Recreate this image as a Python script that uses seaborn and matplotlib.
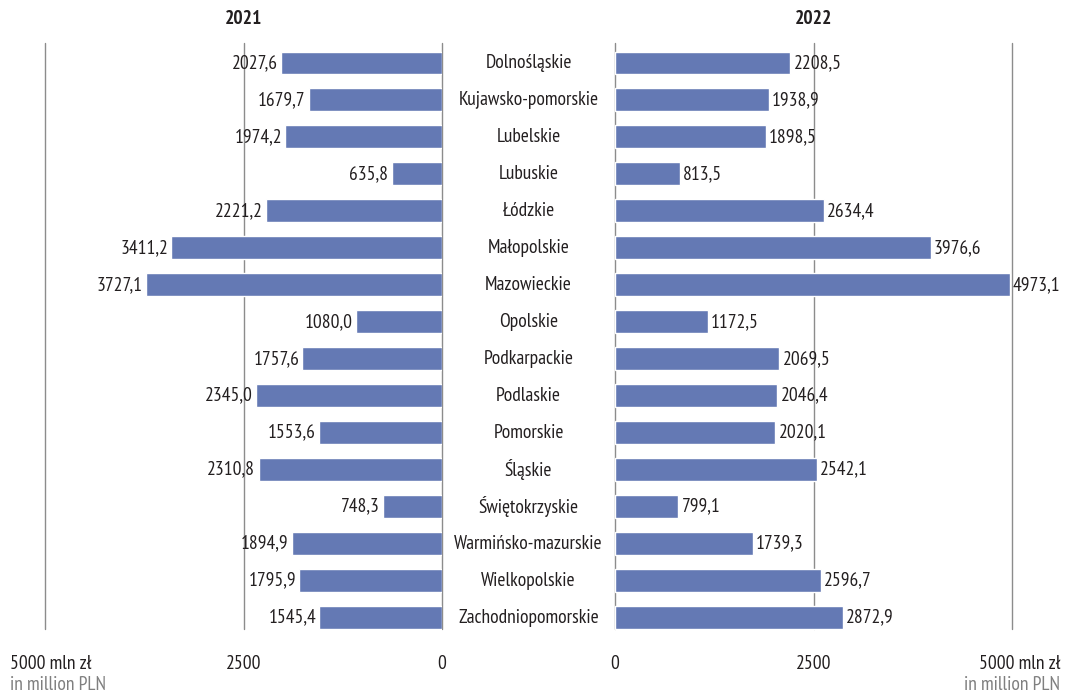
import matplotlib
matplotlib.use("Agg")
import matplotlib.pyplot as plt
import matplotlib.transforms as mtransforms
import seaborn as sns
import pandas as pd

regions = ["Dolnośląskie", "Kujawsko-pomorskie", "Lubelskie", "Lubuskie", "Łódzkie",
           "Małopolskie", "Mazowieckie", "Opolskie", "Podkarpackie", "Podlaskie",
           "Pomorskie", "Śląskie", "Świętokrzyskie", "Warmińsko-mazurskie",
           "Wielkopolskie", "Zachodniopomorskie"]
values_2021 = [2027.6, 1679.7, 1974.2, 635.8, 2221.2, 3411.2, 3727.1, 1080.0, 1757.6,
               2345.0, 1553.6, 2310.8, 748.3, 1894.9, 1795.9, 1545.4]
values_2022 = [2208.5, 1938.9, 1898.5, 813.5, 2634.4, 3976.6, 4973.1, 1172.5, 2069.5,
               2046.4, 2020.1, 2542.1, 799.1, 1739.3, 2596.7, 2872.9]
tick_values = [0, 2500, 5000]
years = ["2021", "2022"]

sns.set_theme(style="white")
plt.rcParams['font.family'] = ['PT Sans Narrow', 'Archivo Narrow', 'DejaVu Sans']

BAR = "#6479b4"
GRID = "#8c8c8c"
TXT = "#231f20"
FS = 14

df = pd.DataFrame({"region": regions, "v21": values_2021, "v22": values_2022})

fig = plt.figure(figsize=(10.65, 6.95), dpi=100)
W, H = 1065, 695
bottom = 1 - 636 / H
top = 1 - 44.5 / H
axL = fig.add_axes([45 / W, bottom, 397 / W, top - bottom])
axR = fig.add_axes([615 / W, bottom, 397 / W, top - bottom])

for ax, col in ((axL, "v21"), (axR, "v22")):
    sns.barplot(data=df, y="region", x=col, orient="h", color=BAR, width=0.62,
                saturation=1, ax=ax, zorder=2)
    ax.set_xlim(0, 5000)
    ax.set_ylim(len(regions) - 0.5, -0.5)
    for t in tick_values:
        ax.plot([t, t], [-0.54, len(regions) - 0.7], color=GRID, lw=1.0, zorder=0,
                clip_on=False)
    ax.set_xlabel("")
    ax.set_ylabel("")
    ax.set_xticks([])
    ax.set_yticks([])
    for s in ax.spines.values():
        s.set_visible(False)
    ax.patch.set_alpha(0)

axL.invert_xaxis()

def fmt(v):
    return f"{v:.1f}".replace(".", ",")

for i, (a, b) in enumerate(zip(values_2021, values_2022)):
    axL.text(a + 40, i, fmt(a), ha="right", va="center", fontsize=FS, color=TXT)
    axR.text(b + 40, i, fmt(b), ha="left", va="center", fontsize=FS, color=TXT)
    axL.text(-1090, i, regions[i], ha="center", va="center", fontsize=FS, color=TXT,
             clip_on=False)

# titles
transL = mtransforms.blended_transform_factory(axL.transData, fig.transFigure)
transR = mtransforms.blended_transform_factory(axR.transData, fig.transFigure)
axL.text(2500, 1 - 19 / H, years[0], transform=transL, ha="center", va="center",
         fontsize=FS, fontweight="bold", color=TXT)
axR.text(2500, 1 - 19 / H, years[1], transform=transR, ha="center", va="center",
         fontsize=FS, fontweight="bold", color=TXT)

# bottom axis labels
yb = 1 - 664 / H
yb2 = 1 - 685 / H
axL.text(2500, yb, str(tick_values[1]), transform=transL, ha="center", va="center", fontsize=FS, color=TXT)
axL.text(0, yb, str(tick_values[0]), transform=transL, ha="center", va="center", fontsize=FS, color=TXT)
axR.text(0, yb, str(tick_values[0]), transform=transR, ha="center", va="center", fontsize=FS, color=TXT)
axR.text(2500, yb, str(tick_values[1]), transform=transR, ha="center", va="center", fontsize=FS, color=TXT)
fig.text(10 / W, yb, f"{tick_values[2]} mln zł", ha="left", va="center", fontsize=FS, color=TXT)
fig.text(10 / W, yb2, "in million PLN", ha="left", va="center", fontsize=FS, color="#7f7f7f")
fig.text(1060 / W, yb, f"{tick_values[2]} mln zł", ha="right", va="center", fontsize=FS, color=TXT)
fig.text(1060 / W, yb2, "in million PLN", ha="right", va="center", fontsize=FS, color="#7f7f7f")

fig.savefig("out.png", dpi=100)
